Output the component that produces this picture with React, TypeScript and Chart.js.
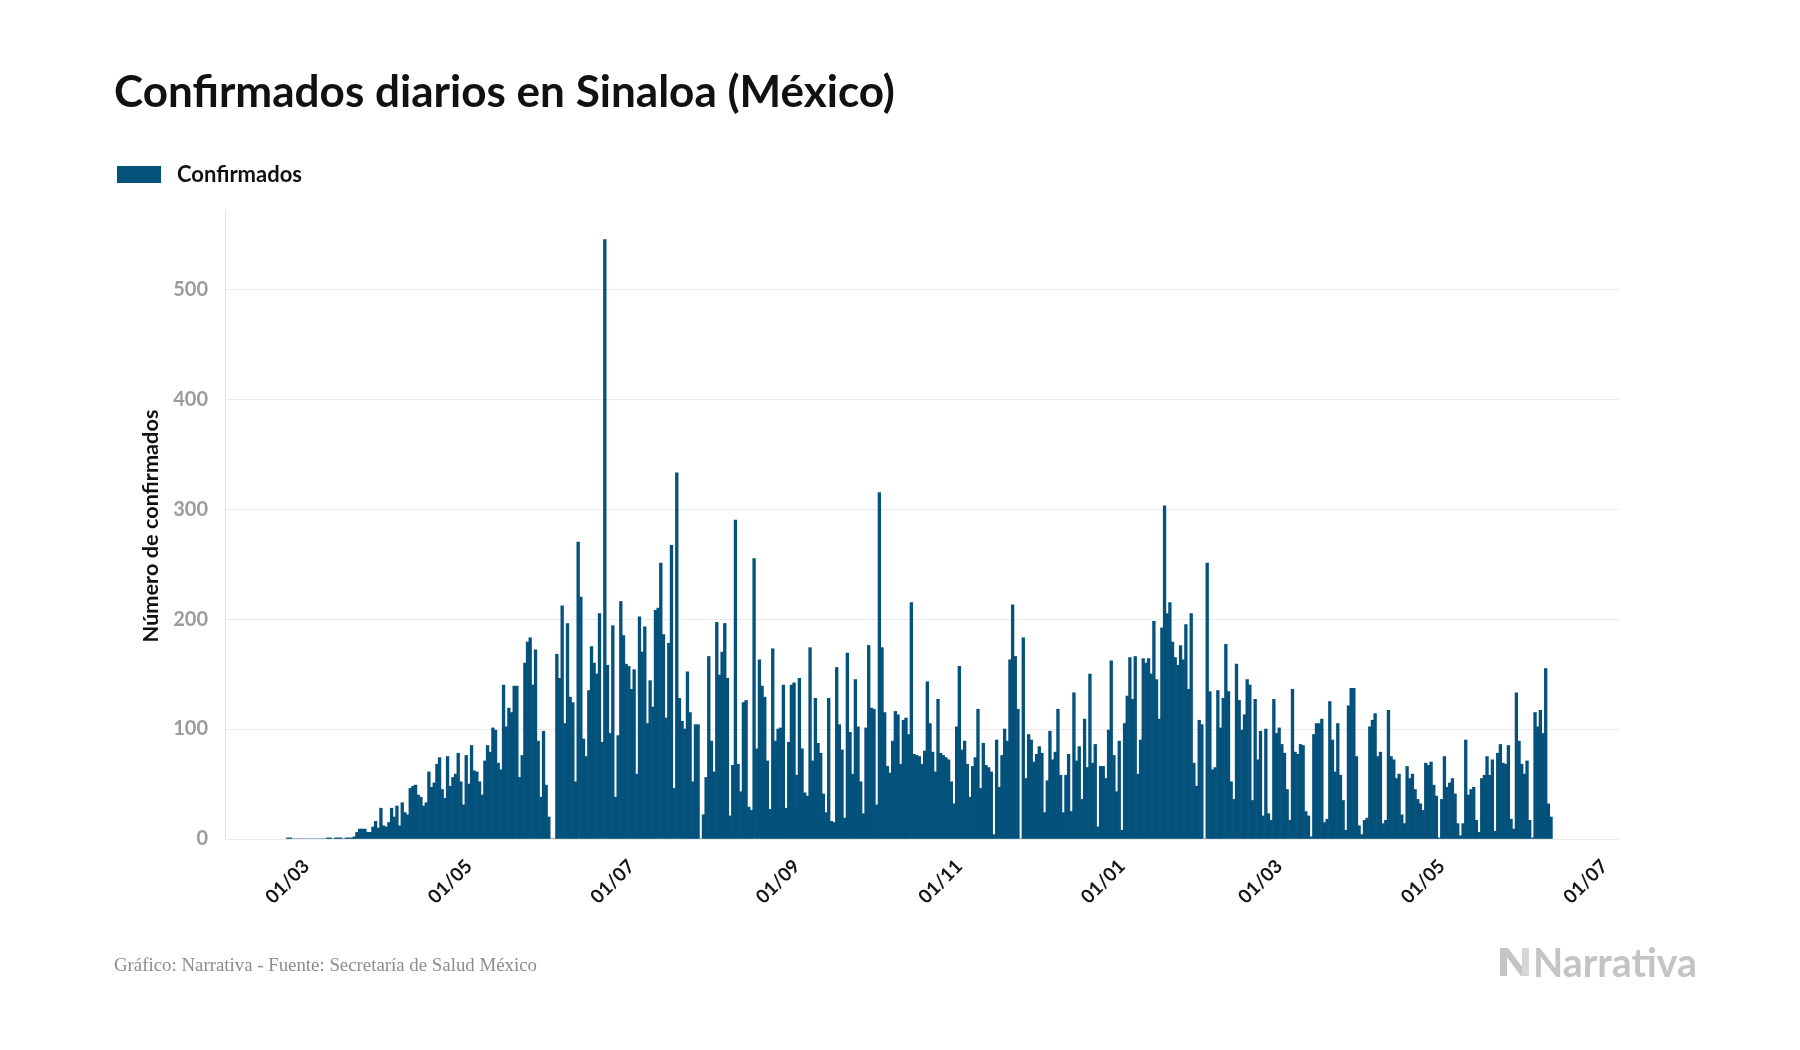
import React, { useEffect, useRef } from 'react';
import { Chart, registerables } from 'chart.js';

Chart.register(...registerables);

// ---- Text ----
const TITLE = 'Confirmados diarios en Sinaloa (México)';
const SERIES_LABEL = 'Confirmados';
const Y_TITLE = 'Número de confirmados';
const SOURCE = 'Gráfico: Narrativa - Fuente: Secretaría de Salud México';
const BRAND = 'Narrativa';

// ---- Axis / categories ----
const AXIS_START = '2020-01-31';
const AXIS_END = '2021-07-06';
const DATA_START = '2020-02-23';
const TICK_LABELS = ['01/03', '01/05', '01/07', '01/09', '01/11', '01/01'];
const Y_TICKS = [0, 100, 200, 300, 400, 500];
const Y_MAX = 572;

// ---- Daily confirmed cases (by month) ----
const feb2020 = [1, 1, 0, 0, 0, 0, 0];
const mar2020 = [0, 0, 0, 0, 0, 0, 0, 0, 1, 1, 0, 1, 1, 1, 0, 1, 1, 1, 2, 6, 9, 9, 9, 6, 6, 11, 16, 10, 28, 12, 11];
const apr2020 = [15, 28, 20, 30, 12, 33, 24, 22, 46, 48, 49, 40, 38, 30, 33, 61, 47, 51, 68, 74, 45, 37, 75, 48, 56, 59, 78, 52, 31, 76];
const may2020 = [50, 85, 62, 61, 52, 40, 71, 85, 79, 101, 99, 69, 63, 140, 102, 119, 115, 139, 139, 56, 76, 160, 179, 183, 140, 172, 89, 38, 98, 49, 20];
const jun2020 = [0, 0, 168, 146, 212, 105, 196, 129, 124, 52, 270, 220, 91, 75, 135, 175, 160, 150, 205, 88, 545, 158, 96, 194, 38, 94, 216, 185, 159, 157];
const jul2020 = [136, 154, 59, 202, 170, 193, 105, 144, 120, 208, 210, 251, 186, 110, 178, 267, 46, 333, 128, 107, 100, 152, 115, 52, 104, 104, 0, 22, 56, 166, 89];
const aug2020 = [61, 197, 149, 170, 196, 146, 21, 67, 290, 68, 43, 124, 126, 29, 26, 255, 82, 163, 139, 129, 71, 27, 173, 89, 100, 101, 140, 28, 88, 140, 142];
const sep2020 = [58, 146, 82, 42, 39, 174, 71, 128, 87, 78, 41, 24, 128, 16, 15, 156, 104, 81, 19, 169, 97, 59, 145, 102, 52, 23, 101, 176, 119, 118];
const oct2020 = [31, 315, 174, 115, 66, 60, 89, 116, 113, 68, 108, 110, 95, 215, 77, 76, 75, 68, 80, 143, 105, 79, 61, 127, 78, 76, 74, 72, 52, 32, 102];
const nov2020 = [157, 81, 89, 68, 38, 66, 74, 118, 46, 87, 67, 65, 61, 4, 90, 47, 76, 100, 89, 163, 213, 166, 118, 0, 183, 55, 95, 90, 70, 77];
const dec2020 = [84, 78, 24, 53, 98, 72, 79, 118, 58, 24, 58, 77, 25, 133, 71, 84, 36, 109, 65, 150, 69, 86, 11, 66, 66, 55, 99, 162, 76, 43, 89];
const jan2021 = [8, 105, 130, 165, 127, 166, 59, 90, 164, 160, 164, 150, 198, 145, 109, 192, 303, 205, 215, 179, 165, 158, 176, 163, 195, 136, 205, 69, 48, 108, 104];
const feb2021 = [0, 251, 134, 63, 65, 135, 101, 128, 177, 134, 52, 36, 159, 126, 99, 113, 145, 140, 35, 127, 72, 98, 21, 100, 23, 17, 127, 96];
const mar2021 = [101, 86, 78, 45, 17, 136, 79, 77, 86, 85, 25, 21, 2, 95, 105, 105, 109, 15, 18, 125, 90, 61, 105, 58, 35, 8, 121, 137, 137, 75, 12];
const apr2021 = [4, 17, 19, 102, 108, 114, 75, 79, 14, 17, 117, 75, 72, 55, 59, 22, 14, 66, 55, 59, 45, 36, 32, 26, 69, 67, 70, 49, 39, 1];
const may2021 = [36, 75, 47, 51, 55, 41, 14, 3, 14, 90, 40, 45, 47, 17, 6, 55, 58, 75, 58, 72, 7, 78, 86, 69, 68, 85, 18, 9, 133, 89, 68];
const jun2021 = [59, 71, 17, 1, 115, 102, 117, 96, 155, 32, 20];

const CONFIRMED = [
  ...feb2020, ...mar2020, ...apr2020, ...may2020, ...jun2020, ...jul2020, ...aug2020, ...sep2020,
  ...oct2020, ...nov2020, ...dec2020, ...jan2021, ...feb2021, ...mar2021, ...apr2021, ...may2021, ...jun2021,
];

// ---- Styling ----
const BAR_COLOR = '#04517b';
const SANS = 'Lato, "DejaVu Sans", sans-serif';
const SERIF = '"Liberation Serif", "DejaVu Serif", serif';

const DAY = 86400000;
const toUTC = (s: string) => {
  const [y, m, d] = s.split('-').map(Number);
  return Date.UTC(y, m - 1, d);
};
const fmt = (t: number) => {
  const d = new Date(t);
  const dd = String(d.getUTCDate()).padStart(2, '0');
  const mm = String(d.getUTCMonth() + 1).padStart(2, '0');
  return `${dd}/${mm}`;
};

function buildAxis() {
  const start = toUTC(AXIS_START);
  const end = toUTC(AXIS_END);
  const offset = Math.round((toUTC(DATA_START) - start) / DAY);
  const labels: string[] = [];
  const data: (number | null)[] = [];
  for (let k = 0, t = start; t <= end; k++, t += DAY) {
    labels.push(fmt(t));
    const j = k - offset;
    data.push(j >= 0 && j < CONFIRMED.length ? CONFIRMED[j] : null);
  }
  return { labels, data };
}

function fitFont(ctx: CanvasRenderingContext2D, text: string, weight: string, family: string, width: number) {
  ctx.font = `${weight} 100px ${family}`;
  const w = ctx.measureText(text).width;
  const size = (100 * width) / w;
  return `${weight} ${size.toFixed(2)}px ${family}`;
}

const decor = {
  id: 'decor',
  beforeDraw(chart: any) {
    const c = chart.ctx as CanvasRenderingContext2D;
    c.save();
    c.fillStyle = '#ffffff';
    c.fillRect(0, 0, chart.width, chart.height);
    c.restore();
  },
  afterDraw(chart: any) {
    const c = chart.ctx as CanvasRenderingContext2D;
    c.save();
    // Title
    c.fillStyle = '#111111';
    c.textAlign = 'left';
    c.textBaseline = 'alphabetic';
    c.font = fitFont(c, TITLE, '700', SANS, 781);
    c.fillText(TITLE, 114, 107);

    // Legend
    c.fillStyle = BAR_COLOR;
    c.fillRect(117, 166, 44, 17);
    c.fillStyle = '#111111';
    c.textBaseline = 'middle';
    c.font = fitFont(c, SERIES_LABEL, '700', SANS, 125);
    c.fillText(SERIES_LABEL, 177, 175);

    // Y title
    c.save();
    c.translate(151, 526);
    c.rotate(-Math.PI / 2);
    c.textAlign = 'center';
    c.textBaseline = 'middle';
    c.font = fitFont(c, Y_TITLE, '700', SANS, 233);
    c.fillText(Y_TITLE, 0, 0);
    c.restore();

    // Source
    c.fillStyle = '#8c8c8c';
    c.textAlign = 'left';
    c.textBaseline = 'alphabetic';
    c.font = fitFont(c, SOURCE, '400', SERIF, 423);
    c.fillText(SOURCE, 114, 971);

    // Brand logo
    c.fillStyle = '#c4c4c4';
    c.beginPath();
    c.moveTo(1500, 948);
    c.lineTo(1508, 948);
    c.lineTo(1529, 976);
    c.lineTo(1521, 976);
    c.closePath();
    c.fill();
    c.fillRect(1500, 948, 7, 28);
    c.fillStyle = '#d6d6d6';
    c.fillRect(1522, 948, 7, 28);
    c.fillStyle = '#c4c4c4';
    c.textBaseline = 'alphabetic';
    c.font = fitFont(c, BRAND, '700', SANS, 164);
    c.fillText(BRAND, 1533, 977);
    c.restore();
  },
};

export default function App() {
  const ref = useRef<HTMLCanvasElement | null>(null);

  useEffect(() => {
    const canvas = ref.current;
    if (!canvas) return;
    const { labels, data } = buildAxis();
    const tickSet = new Set(TICK_LABELS);
    const chart = new Chart(canvas, {
      type: 'bar',
      data: {
        labels,
        datasets: [
          {
            label: SERIES_LABEL,
            data,
            backgroundColor: BAR_COLOR,
            borderWidth: 0,
            barPercentage: 1,
            categoryPercentage: 1,
          },
        ],
      },
      options: {
        responsive: false,
        maintainAspectRatio: false,
        animation: false,
        devicePixelRatio: 1,
        layout: { padding: { left: 125, right: 181, top: 210, bottom: 111 } },
        plugins: {
          legend: { display: false },
          tooltip: { enabled: false },
          title: { display: false },
        },
        scales: {
          x: {
            grid: { display: false },
            border: { display: false },
            ticks: {
              autoSkip: false,
              maxRotation: 45,
              minRotation: 45,
              padding: 8,
              color: '#151515',
              font: { family: SANS, weight: 'bold', size: 19 },
              callback: (_v: any, i: number) => (tickSet.has(labels[i]) ? labels[i] : ''),
            },
            afterFit: (s: any) => {
              s.height = 100;
            },
          },
          y: {
            min: 0,
            max: Y_MAX,
            ticks: {
              stepSize: 100,
              padding: 17,
              color: '#9b9b9b',
              font: { family: SANS, weight: 'bold', size: 20 },
              callback: (v: any) => (Y_TICKS.includes(Number(v)) ? String(v) : ''),
            },
            grid: {
              drawTicks: false,
              lineWidth: 1,
              color: (ctx: any) => (ctx.tick && Y_TICKS.includes(ctx.tick.value) ? '#ececec' : 'rgba(0,0,0,0)'),
            },
            border: { display: true, color: '#e4e4e4' },
            afterFit: (s: any) => {
              s.width = 100;
            },
          },
        },
      } as any,
      plugins: [decor],
    });
    return () => chart.destroy();
  }, []);

  return (
    <div style={{ position: 'absolute', left: 0, top: 0, width: 1800, height: 1050, background: '#fff' }}>
      <canvas ref={ref} width={1800} height={1050} style={{ width: 1800, height: 1050, display: 'block' }} />
    </div>
  );
}
